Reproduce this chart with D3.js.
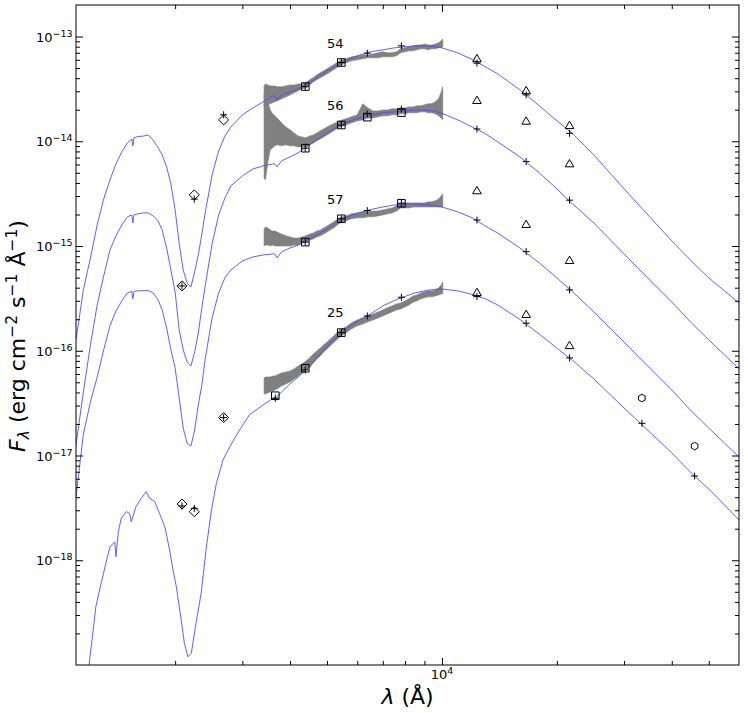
<!DOCTYPE html>
<html><head><meta charset="utf-8">
<script src="https://cdn.jsdelivr.net/npm/d3@7"></script>
<style>body{margin:0;background:#fff}text{font-family:"DejaVu Sans",sans-serif;fill:#000}</style>
</head><body><svg id="c" width="748" height="713"></svg>
<script>
// ---------- model SEDs (wavelength in Angstrom, flux in erg/cm2/s/A) ----------
const modelWave = [1100,1150,1200,1250,1300,1350,1400,1450,1500,1540,1550,1560,1600,1650,1700,1750,1800,1850,1900,1950,2000,2050,2100,2150,2200,2250,2300,2350,2400,2500,2600,2700,2800,3000,3200,3400,3600,3650,3700,3800,4000,4200,4500,5000,5500,6000,6500,7000,7500,8000,8500,9000,9500,10000,11000,12000,13000,14000,16000,18000,20000,22000,25000,30000,35000,40000,45000,50000,55000,60000];
const model54 = [1.27e-16,3.81e-16,7.70e-16,1.59e-15,2.81e-15,4.28e-15,6.08e-15,7.92e-15,9.65e-15,1.05e-14,9.04e-15,1.08e-14,1.11e-14,1.12e-14,1.15e-14,1.03e-14,8.84e-15,7.41e-15,5.69e-15,3.92e-15,2.21e-15,1.05e-15,5.91e-16,4.44e-16,4.07e-16,5.66e-16,8.22e-16,1.30e-15,2.12e-15,4.78e-15,8.10e-15,1.12e-14,1.37e-14,1.79e-14,2.08e-14,2.38e-14,2.71e-14,2.71e-14,2.49e-14,2.77e-14,2.96e-14,3.16e-14,3.61e-14,4.71e-14,5.73e-14,6.54e-14,7.14e-14,7.46e-14,7.80e-14,7.97e-14,8.15e-14,8.15e-14,8.06e-14,7.80e-14,6.99e-14,6.05e-14,5.14e-14,4.40e-14,3.10e-14,2.18e-14,1.57e-14,1.18e-14,7.41e-15,3.51e-15,1.90e-15,1.12e-15,7.20e-16,4.96e-16,3.73e-16,2.86e-16];
const model56 = [1.26e-17,4.04e-17,1.14e-16,2.74e-16,5.18e-16,9.18e-16,1.25e-15,1.59e-15,1.90e-15,1.98e-15,1.66e-15,1.98e-15,2.03e-15,2.07e-15,2.07e-15,1.94e-15,1.77e-15,1.42e-15,9.59e-16,5.91e-16,3.65e-16,1.58e-16,1.02e-16,7.82e-17,7.16e-17,9.74e-17,1.48e-16,2.57e-16,4.25e-16,1.05e-15,1.98e-15,2.87e-15,3.75e-15,4.67e-15,5.45e-15,5.82e-15,6.08e-15,6.08e-15,5.69e-15,6.50e-15,7.10e-15,7.75e-15,9.24e-15,1.20e-14,1.47e-14,1.65e-14,1.77e-14,1.87e-14,1.91e-14,1.95e-14,1.99e-14,1.99e-14,1.95e-14,1.85e-14,1.60e-14,1.37e-14,1.18e-14,9.87e-15,7.10e-15,4.99e-15,3.51e-15,2.52e-15,1.66e-15,8.40e-16,4.75e-16,2.92e-16,1.85e-16,1.27e-16,9.12e-17,6.70e-17];
const model57 = [4.02e-18,1.60e-17,3.25e-17,5.62e-17,1.02e-16,1.73e-16,2.40e-16,2.99e-16,3.57e-16,3.69e-16,3.13e-16,3.69e-16,3.73e-16,3.75e-16,3.75e-16,3.57e-16,3.13e-16,2.45e-16,1.65e-16,1.02e-16,6.85e-17,3.54e-17,1.83e-17,1.31e-17,1.23e-17,1.75e-17,3.04e-17,4.71e-17,8.54e-17,2.06e-16,3.57e-16,4.96e-16,5.91e-16,7.20e-16,7.87e-16,8.22e-16,8.40e-16,8.40e-16,7.70e-16,8.78e-16,9.59e-16,1.02e-15,1.17e-15,1.45e-15,1.82e-15,2.05e-15,2.23e-15,2.36e-15,2.46e-15,2.52e-15,2.52e-15,2.49e-15,2.44e-15,2.36e-15,2.12e-15,1.86e-15,1.55e-15,1.33e-15,9.59e-16,6.89e-16,4.96e-16,3.65e-16,2.35e-16,1.21e-16,6.85e-17,4.22e-17,2.66e-17,1.83e-17,1.31e-17,9.68e-18];
const model25Wave = [1150,1190,1220,1240,1280,1320,1350,1390,1400,1420,1445,1490,1520,1535,1580,1630,1680,1715,1770,1820,1880,1935,1975,2015,2075,2115,2160,2205,2275,2340,2415,2490,2565,2670,2780,2950,3130,3400,3610,3700,3800,4000,4200,4500,5000,5500,6000,6500,7000,7500,8000,8500,9000,9500,10000,11000,12000,13000,14000,16000,18000,20000,22000,25000,30000,35000,40000,45000,50000,55000,60000];
const model25 = [3.0e-20,1.0e-19,2.15e-19,3.60e-19,6.02e-19,9.68e-19,1.34e-18,1.50e-18,1.08e-18,1.87e-18,2.51e-18,2.91e-18,2.80e-18,2.33e-18,3.25e-18,3.90e-18,4.51e-18,3.90e-18,3.62e-18,2.80e-18,2.09e-18,1.25e-18,8.06e-19,5.58e-19,2.68e-19,1.61e-19,1.20e-19,1.29e-19,2.68e-19,4.83e-19,1.34e-18,3.01e-18,5.42e-18,9.06e-18,1.21e-17,1.75e-17,2.44e-17,3.04e-17,3.51e-17,3.62e-17,4.04e-17,4.82e-17,5.62e-17,7.00e-17,1.11e-16,1.54e-16,1.92e-16,2.25e-16,2.68e-16,3.02e-16,3.30e-16,3.57e-16,3.73e-16,3.85e-16,3.89e-16,3.73e-16,3.45e-16,3.13e-16,2.74e-16,1.99e-16,1.44e-16,1.06e-16,8.08e-17,5.38e-17,2.84e-17,1.68e-17,1.06e-17,6.80e-18,4.79e-18,3.37e-18,2.42e-18];

// ---------- observed spectra (upper / lower envelope) ----------
const specWave = [3420,3450,3500,3550,3600,3650,3700,3800,3900,4000,4100,4200,4300,4400,4500,4600,4700,4800,4900,5000,5200,5400,5600,5800,6000,6200,6400,6600,6800,7000,7200,7400,7600,7800,8000,8200,8400,8600,8800,9000,9200,9400,9600,9800,9950,10050];
const spec54Hi = [3.38e-14,3.53e-14,3.45e-14,3.38e-14,3.38e-14,3.38e-14,3.31e-14,3.31e-14,3.38e-14,3.45e-14,3.45e-14,3.53e-14,3.53e-14,3.61e-14,3.86e-14,4.03e-14,4.31e-14,4.5e-14,4.71e-14,4.92e-14,5.37e-14,5.86e-14,6.12e-14,6.4e-14,6.54e-14,6.68e-14,6.68e-14,6.83e-14,6.99e-14,7.14e-14,6.99e-14,6.99e-14,7.14e-14,7.63e-14,7.8e-14,7.97e-14,8.15e-14,8.3e-14,8.3e-14,8.5e-14,8.3e-14,8.3e-14,8.5e-14,8.7e-14,9.1e-14,9.5e-14];
const spec54Lo = [2.08e-14,2.18e-14,2.23e-14,2.28e-14,2.33e-14,2.38e-14,2.43e-14,2.54e-14,2.65e-14,2.77e-14,2.9e-14,3.03e-14,3.16e-14,3.23e-14,3.45e-14,3.69e-14,3.86e-14,4.03e-14,4.21e-14,4.4e-14,4.81e-14,5.25e-14,5.61e-14,5.86e-14,5.99e-14,6.12e-14,6.26e-14,6.26e-14,6.26e-14,6.4e-14,6.4e-14,6.4e-14,6.54e-14,6.99e-14,7.14e-14,7.3e-14,7.3e-14,7.46e-14,7.63e-14,7.63e-14,7.46e-14,7.63e-14,7.63e-14,7.8e-14,7.8e-14,7.97e-14];
const spec56Hi = [2.77e-14,3.10e-14,2.38e-14,1.99e-14,1.83e-14,1.75e-14,1.67e-14,1.50e-14,1.37e-14,1.29e-14,1.20e-14,1.12e-14,1.10e-14,1.08e-14,1.12e-14,1.15e-14,1.20e-14,1.26e-14,1.31e-14,1.37e-14,1.47e-14,1.57e-14,1.64e-14,1.71e-14,1.79e-14,2.28e-14,2.08e-14,1.95e-14,1.95e-14,1.99e-14,1.99e-14,2.04e-14,2.04e-14,2.08e-14,2.08e-14,2.13e-14,2.13e-14,2.18e-14,2.18e-14,2.23e-14,2.28e-14,2.28e-14,2.38e-14,2.54e-14,2.96e-14,3.31e-14];
const spec56Lo = [4.47e-15,4.28e-15,6.36e-15,8.28e-15,8.65e-15,9.04e-15,9.24e-15,9.04e-15,9.24e-15,9.04e-15,9.04e-15,8.84e-15,8.84e-15,8.84e-15,9.24e-15,9.65e-15,1.01e-14,1.05e-14,1.10e-14,1.15e-14,1.26e-14,1.37e-14,1.43e-14,1.50e-14,1.57e-14,1.60e-14,1.67e-14,1.67e-14,1.71e-14,1.75e-14,1.75e-14,1.79e-14,1.79e-14,1.83e-14,1.83e-14,1.87e-14,1.87e-14,1.87e-14,1.91e-14,1.91e-14,1.87e-14,1.87e-14,1.83e-14,1.75e-14,1.67e-14,1.60e-14];
const spec57Hi = [1.45e-15,1.52e-15,1.49e-15,1.42e-15,1.39e-15,1.39e-15,1.36e-15,1.30e-15,1.25e-15,1.22e-15,1.19e-15,1.19e-15,1.22e-15,1.25e-15,1.30e-15,1.33e-15,1.39e-15,1.42e-15,1.49e-15,1.55e-15,1.70e-15,1.86e-15,1.94e-15,2.03e-15,2.07e-15,2.12e-15,2.12e-15,2.16e-15,2.16e-15,2.21e-15,2.26e-15,2.31e-15,2.41e-15,2.58e-15,2.58e-15,2.58e-15,2.58e-15,2.58e-15,2.58e-15,2.58e-15,2.64e-15,2.64e-15,2.70e-15,2.81e-15,3.00e-15,3.15e-15];
const spec57Lo = [1.0e-15,1.02e-15,1.02e-15,1.0e-15,1.02e-15,1.0e-15,1.0e-15,1.0e-15,1.0e-15,1.0e-15,1.02e-15,1.02e-15,1.07e-15,1.09e-15,1.14e-15,1.17e-15,1.22e-15,1.25e-15,1.30e-15,1.36e-15,1.49e-15,1.66e-15,1.74e-15,1.82e-15,1.86e-15,1.86e-15,1.90e-15,1.90e-15,1.94e-15,1.98e-15,2.03e-15,2.07e-15,2.16e-15,2.31e-15,2.31e-15,2.31e-15,2.36e-15,2.36e-15,2.36e-15,2.36e-15,2.36e-15,2.36e-15,2.36e-15,2.36e-15,2.36e-15,2.36e-15];
const spec25Hi = [5.50e-17,5.62e-17,5.62e-17,5.62e-17,5.74e-17,5.74e-17,5.87e-17,6.14e-17,6.27e-17,6.41e-17,6.70e-17,7.16e-17,7.48e-17,7.99e-17,8.54e-17,9.32e-17,9.96e-17,1.06e-16,1.14e-16,1.21e-16,1.38e-16,1.58e-16,1.69e-16,1.85e-16,1.97e-16,2.06e-16,2.15e-16,2.25e-16,2.35e-16,2.45e-16,2.57e-16,2.68e-16,2.80e-16,2.86e-16,2.99e-16,3.13e-16,3.34e-16,3.41e-16,3.57e-16,3.65e-16,3.73e-16,3.73e-16,3.81e-16,3.98e-16,4.25e-16,4.54e-16];
const spec25Lo = [3.87e-17,3.87e-17,3.96e-17,4.04e-17,4.13e-17,4.22e-17,4.32e-17,4.61e-17,4.82e-17,5.04e-17,5.38e-17,5.74e-17,6.14e-17,6.55e-17,7.0e-17,7.65e-17,8.35e-17,8.92e-17,9.74e-17,1.04e-16,1.19e-16,1.35e-16,1.48e-16,1.62e-16,1.73e-16,1.80e-16,1.89e-16,1.97e-16,2.06e-16,2.15e-16,2.25e-16,2.35e-16,2.45e-16,2.51e-16,2.62e-16,2.74e-16,2.92e-16,2.99e-16,3.13e-16,3.20e-16,3.27e-16,3.27e-16,3.34e-16,3.41e-16,3.49e-16,3.49e-16];

// ---------- photometry ----------
const filterNames = ["UVW2","UVM2","UVW1","U","B","V","R","I","J","H","Ks","W1","W2"];
const filterWave  = [2085,2245,2680,3660,4385,5450,6375,7830,12350,16620,21590,33400,45900];
const filterShape = ["D","D","D","s","s","s","s","s","^","^","^","h","h"];
const obs54 = [null,3.08e-15,1.60e-14,null,3.33e-14,5.65e-14,null,null,6.08e-14,3.01e-14,1.40e-14,null,null];
const mod54 = [null,2.80e-15,1.79e-14,null,3.33e-14,5.65e-14,6.94e-14,8.15e-14,5.57e-14,2.77e-14,1.19e-14,null,null];
const obs56 = [4.16e-16,null,null,null,8.59e-15,1.43e-14,1.70e-14,1.88e-14,2.43e-14,1.54e-14,6.04e-15,null,null];
const mod56 = [4.16e-16,null,null,null,8.59e-15,1.43e-14,1.83e-14,2.03e-14,1.31e-14,6.40e-15,2.74e-15,null,null];
const obs57 = [null,null,2.30e-17,null,1.09e-15,1.82e-15,null,2.56e-15,3.34e-15,1.59e-15,7.21e-16,null,null];
const mod57 = [null,null,2.30e-17,null,1.09e-15,1.82e-15,2.18e-15,2.56e-15,1.77e-15,8.84e-16,3.81e-16,null,null];
const obs25 = [3.44e-18,2.91e-18,null,3.72e-17,6.81e-17,1.49e-16,null,null,3.56e-16,2.20e-16,1.11e-16,3.54e-17,1.23e-17];
const mod25 = [3.30e-18,3.13e-18,null,3.52e-17,6.56e-17,1.49e-16,2.15e-16,3.24e-16,3.29e-16,1.83e-16,8.54e-17,2.03e-17,6.37e-18];

// ---------- labels / ticks ----------
const objNames = ["54","56","57","25"];
const labelWave = [5000,5000,5000,5000];
const labelFlux = [7.8e-14,2.0e-14,2.5e-15,2.1e-16];
const yMajorTicks = [1e-13,1e-14,1e-15,1e-16,1e-17,1e-18];
const xMajorTicks = [1e4];
const xMinorTicks = [2000,3000,4000,5000,6000,7000,8000,9000,20000,30000,40000,50000];

// ---------- drawing ----------
const X0 = 76, X1 = 739, Y0 = 5, Y1 = 665;
const x = d3.scaleLog().domain([1100, 60000]).range([X0, X1]);
const y = d3.scaleLog().domain([1e-19, 2e-13]).range([Y1, Y0]);
const svg = d3.select("#c");

svg.append("defs").append("clipPath").attr("id", "clip")
  .append("rect").attr("x", X0).attr("y", Y0).attr("width", X1 - X0).attr("height", Y1 - Y0);
const plot = svg.append("g").attr("clip-path", "url(#clip)");

// spectra
const specs = [[spec54Lo, spec54Hi], [spec56Lo, spec56Hi], [spec57Lo, spec57Hi], [spec25Lo, spec25Hi]];
const area = d3.area().x(d => x(d.w)).y0(d => y(d.lo)).y1(d => y(d.hi));
specs.forEach(([lo, hi]) => {
  const data = specWave.map((w, i) => ({w, lo: lo[i], hi: hi[i]}));
  plot.append("path").datum(data).attr("d", area)
    .attr("fill", "#808080").attr("stroke", "#808080").attr("stroke-width", 0.6).attr("stroke-linejoin", "round");
});

// models
const line = d3.line().x(d => x(d[0])).y(d => y(d[1]));
[[modelWave, model54], [modelWave, model56], [modelWave, model57], [model25Wave, model25]].forEach(([w, f]) => {
  plot.append("path").datum(w.map((v, i) => [v, f[i]])).attr("d", line)
    .attr("fill", "none").attr("stroke", "#4d4dff").attr("stroke-width", 0.9);
});

// markers
const shapes = {
  D: "M0,-5L5,0L0,5L-5,0Z",
  s: "M-3.8,-3.8H3.8V3.8H-3.8Z",
  "^": "M0,-4.8L4.3,2.6H-4.3Z",
  h: (() => { const r = 3.8; return d3.line()(d3.range(6).map(k => [r * Math.sin(k * Math.PI / 3), -r * Math.cos(k * Math.PI / 3)])) + "Z"; })()
};
const plusPath = "M-3.5,0H3.5M0,-3.5V3.5";
const mk = svg.append("g").attr("clip-path", "url(#clip)");
[[obs54, mod54], [obs56, mod56], [obs57, mod57], [obs25, mod25]].forEach(([obs, mod]) => {
  filterWave.forEach((w, i) => {
    if (obs[i] != null) {
      mk.append("path").attr("d", shapes[filterShape[i]])
        .attr("transform", `translate(${x(w)},${y(obs[i])})`)
        .attr("fill", "none").attr("stroke", "#000").attr("stroke-width", 1);
    }
  });
  filterWave.forEach((w, i) => {
    if (mod[i] != null) {
      mk.append("path").attr("d", plusPath)
        .attr("transform", `translate(${x(w)},${y(mod[i])})`)
        .attr("fill", "none").attr("stroke", "#000").attr("stroke-width", 1);
    }
  });
});

// object labels
objNames.forEach((n, i) => {
  svg.append("text").attr("x", x(labelWave[i])).attr("y", y(labelFlux[i]))
    .attr("font-size", 13).text(n);
});

// ticks (inward)
const yMinor = [];
for (let e = -19; e <= -14; e++) for (let m = 2; m <= 9; m++) { const v = m * Math.pow(10, e); if (v < 1.95e-13) yMinor.push(v); }
function addAxis(axis, tr) {
  const g = svg.append("g").attr("transform", tr).call(axis);
  g.select(".domain").remove();
  g.selectAll("line").attr("stroke", "#000").attr("stroke-width", 1);
  g.selectAll("text").remove();
}
addAxis(d3.axisBottom(x).tickValues(xMajorTicks).tickSize(-7), `translate(0,${Y1})`);
addAxis(d3.axisBottom(x).tickValues(xMinorTicks).tickSize(-4), `translate(0,${Y1})`);
addAxis(d3.axisTop(x).tickValues(xMajorTicks).tickSize(-7), `translate(0,${Y0})`);
addAxis(d3.axisTop(x).tickValues(xMinorTicks).tickSize(-4), `translate(0,${Y0})`);
addAxis(d3.axisLeft(y).tickValues(yMajorTicks).tickSize(-7), `translate(${X0},0)`);
addAxis(d3.axisLeft(y).tickValues(yMinor).tickSize(-4), `translate(${X0},0)`);
addAxis(d3.axisRight(y).tickValues(yMajorTicks).tickSize(-7), `translate(${X1},0)`);
addAxis(d3.axisRight(y).tickValues(yMinor).tickSize(-4), `translate(${X1},0)`);

// frame
svg.append("rect").attr("x", X0).attr("y", Y0).attr("width", X1 - X0).attr("height", Y1 - Y0)
  .attr("fill", "none").attr("stroke", "#000").attr("stroke-width", 1);

// tick labels
yMajorTicks.forEach(v => {
  const e = Math.round(Math.log10(v));
  const t = svg.append("text").attr("x", X0 - 3.5).attr("y", y(v) + 5).attr("text-anchor", "end").attr("font-size", 13);
  t.append("tspan").text("10");
  t.append("tspan").attr("font-size", 9.5).attr("dy", -5).text("\u2212" + Math.abs(e));
});
xMajorTicks.forEach(v => {
  const e = Math.round(Math.log10(v));
  const t = svg.append("text").attr("x", x(v)).attr("y", Y1 + 14).attr("text-anchor", "middle").attr("font-size", 13);
  t.append("tspan").text("10");
  t.append("tspan").attr("font-size", 9.5).attr("dy", -5.5).text(String(e));
});

// axis titles
const xt = svg.append("text").attr("x", (X0 + X1) / 2).attr("y", 704).attr("text-anchor", "middle").attr("font-size", 22);
xt.append("tspan").attr("font-style", "italic").text("\u03bb");
xt.append("tspan").text(" (\u00c5)");

const yt = svg.append("text").attr("transform", "translate(25,336) rotate(-90)").attr("text-anchor", "middle").attr("font-size", 22);
yt.append("tspan").attr("font-style", "italic").text("F");
yt.append("tspan").attr("font-style", "italic").attr("font-size", 15.5).attr("dy", 4).text("\u03bb");
yt.append("tspan").attr("dy", -4).text(" (erg cm");
yt.append("tspan").attr("font-size", 15.5).attr("dy", -8).text("\u22122");
yt.append("tspan").attr("dy", 8).text(" s");
yt.append("tspan").attr("font-size", 15.5).attr("dy", -8).text("\u22121");
yt.append("tspan").attr("dy", 8).text(" \u00c5");
yt.append("tspan").attr("font-size", 15.5).attr("dy", -8).text("\u22121");
yt.append("tspan").attr("dy", 8).text(")");
</script></body></html>
